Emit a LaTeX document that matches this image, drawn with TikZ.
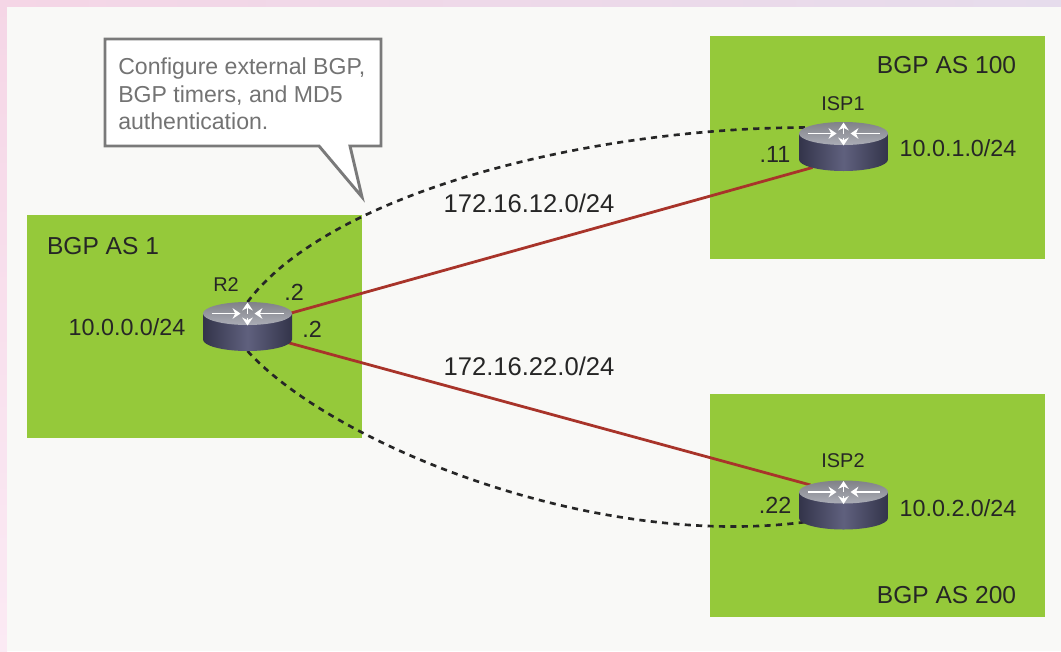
\documentclass[tikz,border=0pt]{standalone}
\usepackage{fontspec}
\setmainfont{Liberation Sans}
\usetikzlibrary{calc,arrows.meta}
\definecolor{asgreen}{HTML}{95C93A}
\definecolor{panelbg}{HTML}{F9F9F7}
\definecolor{linkred}{HTML}{A8342A}
\definecolor{notegray}{HTML}{7A7A7A}
\definecolor{routerdark}{HTML}{33344A}
\definecolor{routerlight}{HTML}{5F617E}
\definecolor{routertop}{HTML}{ABADB6}
\definecolor{bandpink}{HTML}{F5D6E6}
\definecolor{bandlilac}{HTML}{E6DCEC}
\definecolor{bandpale}{HTML}{FBEAF4}
\tikzset{
  asbox/.style={fill=asgreen,draw=none,minimum width=335*0.754pt,minimum height=223*0.754pt,
     inner sep=0pt,outer sep=0pt},
  lbl/.style={font=\fontsize{18.5}{22}\selectfont,text=black!85,inner sep=0pt},
  netlbl/.style={font=\fontsize{17.6}{22}\selectfont,text=black!85,inner sep=0pt},
  linklbl/.style={font=\fontsize{19.3}{22}\selectfont,text=black!85,inner sep=0pt},
  smalllbl/.style={font=\fontsize{15}{18}\selectfont,text=black!85,inner sep=0pt},
  routerbox/.style={minimum width=89*0.754pt,minimum height=49*0.754pt,inner sep=0pt,outer sep=0pt},
  redlink/.style={linkred,line width=2.1pt},
  bgplink/.style={black!85,line width=2pt,dash pattern=on 4.6pt off 4pt},
  whitearrow/.style={white,line width=1.4pt,-{Stealth[length=6pt,width=8pt]}},
  pics/router/.style={code={
     \path[left color=routerdark,right color=routerdark,middle color=routerlight]
        (-44.5,-13) -- (-44.5,13) arc[start angle=180,end angle=0,x radius=44.5,y radius=11.5]
        -- (44.5,-13) -- cycle;
     \path[top color=routertop!75!black,bottom color=routertop]
        (0,-13) ellipse[x radius=44.5,y radius=11.5];
     \draw[whitearrow] (-36,-13) -- (-7,-13);
     \draw[whitearrow] (36,-13) -- (7,-13);
     \draw[whitearrow] (0,-13) -- (0,-24);
     \draw[whitearrow] (0,-9) -- (0,-1);
  }}
}
\begin{document}
\begin{tikzpicture}[x=0.754pt,y=-0.754pt]
  \useasboundingbox (0,0) rectangle (1061,651);
  % backdrop
  \fill[left color=bandpink,right color=bandlilac] (0,0) rectangle (1061,7);
  \fill[top color=bandpink,bottom color=bandpale] (0,0) rectangle (7,651);
  \fill[panelbg] (7,7) rectangle (1061,651);
  % autonomous systems
  \node[asbox] (AS1) at (194.5,326.5) {};
  \node[asbox] (AS100) at (877.5,147) {};
  \node[asbox] (AS200) at (877,505.5) {};
  \node[lbl] (as1txt) at (103,246) {BGP AS 1};
  \node[lbl] (as100txt) at (946.5,65) {BGP AS 100};
  \node[lbl] (as200txt) at (946.5,595) {BGP AS 200};
  % routers
  \node[routerbox] (R2) at (247.5,326.5) {};
  \node[routerbox] (ISP1) at (843.5,146.5) {};
  \node[routerbox] (ISP2) at (843.5,505) {};
  % links
  \draw[redlink] ($(R2)+(42,-13)$) -- ($(ISP1)+(-31,21)$);
  \draw[redlink] ($(R2)+(40,16)$) -- ($(ISP2)+(-33,-20)$);
  \draw[bgplink] (R2.north) .. controls (330,192) and (590,128) .. ($(ISP1)+(-38,-19)$);
  \draw[bgplink] (R2.south) .. controls (330,442) and (590,550) .. ($(ISP2)+(-38,17)$);
  \pic at (R2) {router};
  \pic at (ISP1) {router};
  \pic at (ISP2) {router};
  % labels
  \node[smalllbl] (r2txt) at (226,285) {R2};
  \node[smalllbl] (isp1txt) at (843,104) {ISP1};
  \node[smalllbl] (isp2txt) at (843,461) {ISP2};
  \node[netlbl] (net0) at (127,327) {10.0.0.0/24};
  \node[netlbl] (net1) at (958,148) {10.0.1.0/24};
  \node[netlbl] (net2) at (958,508) {10.0.2.0/24};
  \node[linklbl] (link1) at (529,203) {172.16.12.0/24};
  \node[linklbl] (link2) at (529,366) {172.16.22.0/24};
  \node[netlbl] (h1) at (294,292) {.2};
  \node[netlbl] (h2) at (312,329) {.2};
  \node[netlbl] (h11) at (775,154) {.11};
  \node[netlbl] (h22) at (775,505) {.22};
  % callout
  \draw[notegray,line width=2.2pt,fill=white,line join=miter]
     (105,39) -- (381,39) -- (381,146) -- (350,146) -- (362,197) -- (319,146) -- (105,146) -- cycle;
  \node[font=\fontsize{17.4}{20.4}\selectfont,text=black!55,align=left,anchor=north west,inner sep=0pt]
     (note) at (118,58) {Configure external BGP,\\BGP timers, and MD5\\authentication.};
\end{tikzpicture}
\end{document}
